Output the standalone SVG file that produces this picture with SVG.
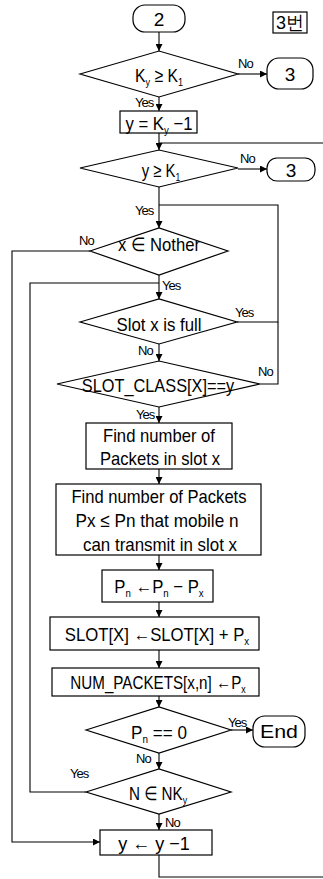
<svg xmlns="http://www.w3.org/2000/svg" width="323" height="879" viewBox="0 0 323 879">
<defs>
<marker id="ah" viewBox="0 0 10 10" refX="10" refY="5" markerWidth="7" markerHeight="7" orient="auto" markerUnits="userSpaceOnUse">
<path d="M0,0 L10,5 L0,10 z" fill="#000"/>
</marker>
</defs>
<style>
.s{fill:#fff;stroke:#000;stroke-width:1.2}
.c{fill:none;stroke:#000;stroke-width:1.1}
.a{marker-end:url(#ah)}
.t{font-family:"Liberation Sans",Arial,"DejaVu Sans",sans-serif;font-size:19px;fill:#000;text-anchor:middle}
.l{font-family:"Liberation Sans",Arial,sans-serif;font-size:13px;fill:#000;letter-spacing:-1px}
.sub{font-size:11px}
</style>
<rect width="323" height="879" fill="#fff"/>
<g id="connectors">
<path class="c a" d="M159,32 V51"/>
<path class="c a" d="M238,74 H267"/>
<path class="c a" d="M159,97 V111"/>
<path class="c a" d="M159,133 V150"/>
<path class="c" d="M323,143 H159"/>
<path class="c a" d="M238,169 H267"/>
<path class="c a" d="M159,187 V228"/>
<path class="c" d="M237,322 H278 V205 H159"/>
<path class="c" d="M260,384 H278 V322"/>
<path class="c a" d="M90,251 H12 V842 H100"/>
<path class="c a" d="M159,275 V299"/>
<path class="c" d="M86,792 H30 V283 H159"/>
<path class="c a" d="M159,344 V361"/>
<path class="c a" d="M159,407 V423"/>
<path class="c a" d="M159,469 V484"/>
<path class="c a" d="M159,555 V570"/>
<path class="c a" d="M159,602 V617"/>
<path class="c a" d="M159,650 V668"/>
<path class="c a" d="M159,696 V707"/>
<path class="c a" d="M231,730 H253"/>
<path class="c a" d="M159,753 V769"/>
<path class="c a" d="M159,814 V830"/>
<path class="c" d="M159,855 V877 H323"/>
<text class="l" x="238" y="68">No</text>
<text class="l" x="135" y="107">Yes</text>
<text class="l" x="240" y="163">No</text>
<text class="l" x="135" y="215">Yes</text>
<text class="l" x="79" y="245">No</text>
<text class="l" x="162" y="290">Yes</text>
<text class="l" x="235" y="317">Yes</text>
<text class="l" x="138" y="355">No</text>
<text class="l" x="258" y="376">No</text>
<text class="l" x="136" y="419">Yes</text>
<text class="l" x="228" y="727">Yes</text>
<text class="l" x="136" y="763">No</text>
<text class="l" x="70" y="778">Yes</text>
<text class="l" x="165" y="827">No</text>
</g>
<g id="start2">
<rect class="s" x="133" y="5" width="52" height="27" rx="12"/>
<text class="t" x="159" y="26" font-size="20">2</text>
</g>
<g id="label3">
<rect class="s" x="273" y="12" width="34" height="21"/>
<text class="t" x="290" y="29" font-family="'Liberation Sans','Noto Sans CJK KR',sans-serif" font-size="17" textLength="28" lengthAdjust="spacingAndGlyphs">3번</text>
</g>
<g id="d1">
<polygon class="s" points="80,74 159,51 238,74 159,97"/>
<text class="t" transform="translate(159,82) scale(0.83,1)" font-size="22">K<tspan class="sub" dy="4">y</tspan><tspan dy="-4"> ≥ K</tspan><tspan class="sub" dy="4">1</tspan></text>
</g>
<g id="t3a">
<rect class="s" x="267" y="58" width="46" height="31" rx="12"/>
<text class="t" x="290" y="81" font-size="21">3</text>
</g>
<g id="b0">
<rect class="s" x="120" y="111" width="77" height="22"/>
<text class="t" transform="translate(159,130) scale(0.88,1)" font-size="20">y = K<tspan class="sub" dy="4">y</tspan><tspan dy="-4"> −1</tspan></text>
</g>
<g id="d2">
<polygon class="s" points="80,168 159,150 238,168 159,187"/>
<text class="t" transform="translate(161,177) scale(0.78,1)" font-size="21">y ≥ K<tspan class="sub" dy="4">1</tspan></text>
</g>
<g id="t3b">
<rect class="s" x="267" y="158" width="48" height="23" rx="10"/>
<text class="t" x="291" y="177" font-size="20">3</text>
</g>
<g id="d3">
<polygon class="s" points="90,251 159,228 228,251 159,275"/>
<text class="t" x="159" y="251" font-size="19" textLength="82" lengthAdjust="spacingAndGlyphs">x ∈ Nother</text>
</g>
<g id="d4">
<polygon class="s" points="80,322 159,299 237,322 159,344"/>
<text class="t" x="159" y="331" font-size="19" textLength="85" lengthAdjust="spacingAndGlyphs">Slot x is full</text>
</g>
<g id="d5">
<polygon class="s" points="57,384 159,361 260,384 159,407"/>
<text class="t" transform="translate(158,392) scale(0.86,1)" font-size="20">SLOT_CLASS[X]==y</text>
</g>
<g id="b1">
<rect class="s" x="86" y="423" width="146" height="46"/>
<text class="t" x="159" y="442" textLength="112" lengthAdjust="spacingAndGlyphs">Find number of</text>
<text class="t" x="160" y="465" textLength="120" lengthAdjust="spacingAndGlyphs">Packets in slot x</text>
</g>
<g id="b2">
<rect class="s" x="56" y="484" width="205" height="71"/>
<text class="t" x="159" y="503" textLength="175" lengthAdjust="spacingAndGlyphs">Find number of Packets</text>
<text class="t" x="157" y="527" textLength="163" lengthAdjust="spacingAndGlyphs">Px ≤ Pn that mobile n</text>
<text class="t" x="160" y="551" textLength="154" lengthAdjust="spacingAndGlyphs">can transmit in slot x</text>
</g>
<g id="b3">
<rect class="s" x="102" y="570" width="111" height="32"/>
<text class="t" transform="translate(159,593) scale(0.88,1)" font-size="20">P<tspan class="sub" dy="4">n</tspan><tspan dy="-4"> ←P</tspan><tspan class="sub" dy="4">n</tspan><tspan dy="-4"> − P</tspan><tspan class="sub" dy="4">x</tspan></text>
</g>
<g id="b4">
<rect class="s" x="50" y="617" width="209" height="33"/>
<text class="t" transform="translate(157,641) scale(0.88,1)" font-size="20">SLOT[X] ←SLOT[X] + P<tspan class="sub" dy="4">x</tspan></text>
</g>
<g id="b5">
<rect class="s" x="52" y="668" width="207" height="28"/>
<text class="t" transform="translate(158,689) scale(0.8,1)" font-size="20">NUM_PACKETS[x,n] ←P<tspan class="sub" dy="4">x</tspan></text>
</g>
<g id="d6">
<polygon class="s" points="86,730 159,707 231,730 159,753"/>
<text class="t" transform="translate(159,739) scale(0.9,1)" font-size="21">P<tspan class="sub" dy="4">n</tspan><tspan dy="-4"> == 0</tspan></text>
</g>
<g id="end">
<rect class="s" x="253" y="716" width="52" height="31" rx="12"/>
<text class="t" x="279" y="738" font-size="19" textLength="38" lengthAdjust="spacingAndGlyphs">End</text>
</g>
<g id="d7">
<polygon class="s" points="86,792 159,769 231,792 159,814"/>
<text class="t" transform="translate(158,800) scale(0.8,1)" font-size="21">N ∈ NK<tspan class="sub" dy="4">y</tspan></text>
</g>
<g id="b6">
<rect class="s" x="100" y="830" width="112" height="25"/>
<text class="t" transform="translate(154,850) scale(0.95,1)" font-size="20">y ← y −1</text>
</g>
</svg>
